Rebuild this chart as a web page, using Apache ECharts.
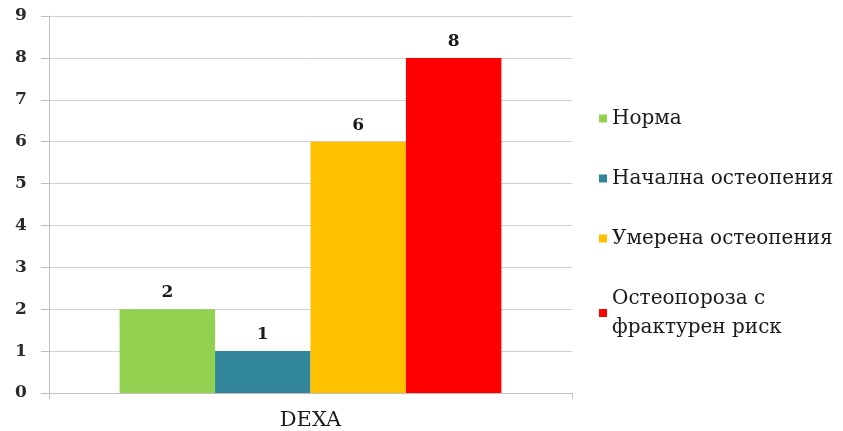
<!DOCTYPE html>
<html><head><meta charset="utf-8">
<script src="https://cdn.jsdelivr.net/npm/echarts@6/dist/echarts.min.js"></script>
<style>html,body{margin:0;padding:0;background:#fff}#c{width:843px;height:431px}</style>
</head><body><div id="c"></div>
<script>
const categories = ['DEXA'];
const seriesNames = ['Норма', 'Начална остеопения', 'Умерена остеопения', 'Остеопороза с\nфрактурен риск'];
const seriesValues = [[2], [1], [6], [8]];
const seriesColors = ['#92D050', '#31859C', '#FFC000', '#FF0000'];
const yTicks = [0, 9, 1];

const font = 'DejaVu Serif';
const chart = echarts.init(document.getElementById('c'));
chart.setOption({
  animation: false,
  textStyle: {fontFamily: font},
  grid: {left: 49, right: 271, top: 16, bottom: 38},
  legend: {
    orient: 'vertical', left: 594, top: 99, itemGap: 31,
    itemWidth: 8, itemHeight: 8, icon: 'rect',
    textStyle: {fontFamily: font, fontSize: 20, color: '#1a1a1a', lineHeight: 29}
  },
  xAxis: {
    type: 'category', data: categories,
    axisLine: {lineStyle: {color: '#bfbfbf'}},
    axisTick: {show: true, length: 6, lineStyle: {color: '#bfbfbf'}},
    axisLabel: {fontFamily: font, fontSize: 21, color: '#1a1a1a', margin: 17}
  },
  yAxis: {
    type: 'value', min: yTicks[0], max: yTicks[1], interval: yTicks[2],
    axisLine: {show: true, lineStyle: {color: '#bfbfbf'}},
    axisTick: {show: true, length: 8, lineStyle: {color: '#bfbfbf'}},
    splitLine: {lineStyle: {color: '#d0d0d0'}},
    axisLabel: {fontFamily: font, fontSize: 17, fontWeight: 'bold', color: '#2a2a2a', margin: 28, align: 'center'}
  },
  series: seriesNames.map((n, i) => ({
    name: n, type: 'bar', data: seriesValues[i],
    barGap: '0%', barCategoryGap: '27%',
    itemStyle: {color: seriesColors[i]},
    label: {show: true, position: 'top', distance: 8, fontFamily: font, fontSize: 17, fontWeight: 'bold', color: '#1a1a1a'}
  }))
});
</script></body></html>
